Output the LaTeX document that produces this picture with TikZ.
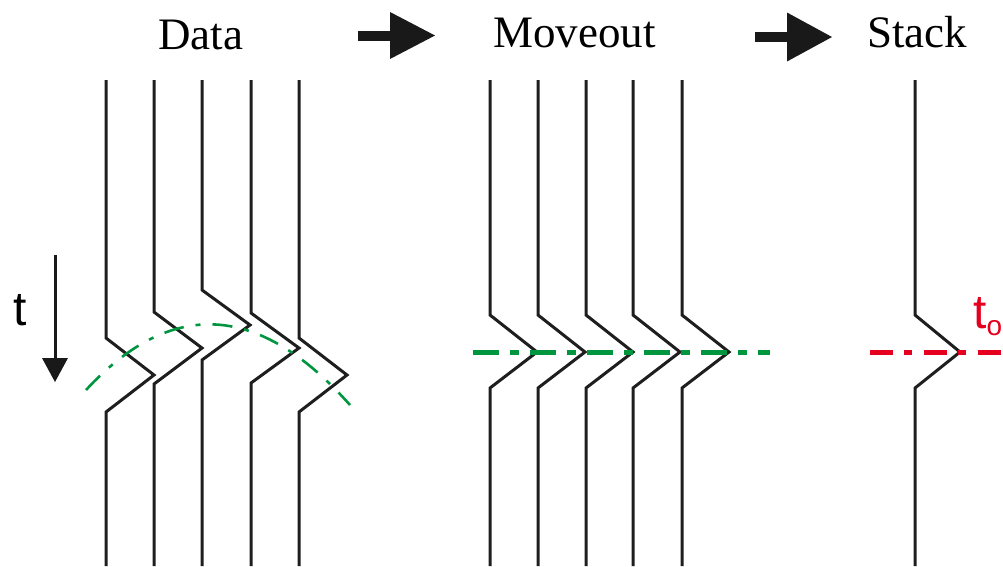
\documentclass[tikz,border=0pt]{standalone}
\usepackage{fontspec}
\setmainfont{Liberation Serif}
\newfontfamily\sansf{Liberation Sans}
\definecolor{trc}{RGB}{30,30,30}
\definecolor{grn}{RGB}{0,150,64}
\definecolor{rd}{RGB}{228,0,30}
\begin{document}
\begin{tikzpicture}[x=1pt,y=-1pt,
  trace/.style={draw=trc,line width=3pt,line join=miter},
  title/.style={anchor=base west,inner sep=0pt,font=\fontsize{45}{45}\selectfont},
  bigarrow/.style={fill=black!90,draw=none},
  gcurve/.style={draw=grn,line width=2.6pt,dash pattern=on 20pt off 12pt on 5pt off 12pt},
  gline/.style={draw=grn,line width=5pt,dash pattern=on 26pt off 11pt on 9pt off 11pt},
  rline/.style={draw=rd,line width=5pt,dash pattern=on 23pt off 11pt on 8pt off 12pt}]
\useasboundingbox (0,0) rectangle (1003,566);
% titles
\node[title] (data) at (158,49) {Data};
\node[title] (moveout) at (493,47) {Moveout};
\node[title] (stack) at (867,47) {Stack};
% big arrows
\coordinate (a1) at (358,35.5);
\coordinate (a2) at (755,37);
\fill[bigarrow] ([yshift=-5pt]a1) rectangle ([xshift=33pt,yshift=5pt]a1);
\fill[bigarrow] ([xshift=32pt,yshift=-23.5pt]a1) -- ([xshift=77pt]a1) -- ([xshift=32pt,yshift=23.5pt]a1) -- cycle;
\fill[bigarrow] ([yshift=-5pt]a2) rectangle ([xshift=33pt,yshift=5pt]a2);
\fill[bigarrow] ([xshift=32pt,yshift=-24.5pt]a2) -- ([xshift=77pt]a2) -- ([xshift=32pt,yshift=24.5pt]a2) -- cycle;
% time arrow
\coordinate (ts) at (55,255);
\coordinate (te) at (55,382);
\draw[draw=black!90,line width=3pt] (ts) -- ([yshift=22pt]te);
\fill[black!90] ([xshift=-13pt,yshift=24pt]te) -- (te) -- ([xshift=13pt,yshift=24pt]te) -- cycle;
\node[anchor=base west,inner sep=0pt,font=\sansf\fontsize{48}{48}\selectfont] (t) at (13,325) {t};
% data traces
\foreach \x/\b/\a in {106/338/375,154/312/348,202/290/325,251/313/348,299/338/375}{
  \draw[trace] (\x,80) -- (\x,\b) -- (\x+48,\a) -- (\x,2*\a-\b) -- (\x,566);
}
\coordinate (g0) at (86,390);
\coordinate (g1) at (350,405);
\draw[gcurve] (g0) .. controls (171.3,297.7) and (259.3,302.7) .. (g1);
% moveout traces
\foreach \x in {490,538,586,633,682}{
  \draw[trace] (\x,80) -- (\x,315) -- (\x+47,352) -- (\x,388) -- (\x,566);
}
\draw[gline] (473,352) -- (770,352);
% stack trace
\draw[trace] (915,80) -- (915,315) -- (960,352) -- (915,388) -- (915,566);
\draw[rline] (870,352) -- (1010,352);
\node[anchor=base west,inner sep=0pt,text=rd] (t0) at (973,328)
  {\sansf\fontsize{48}{48}\selectfont t\raisebox{-7pt}{\fontsize{28}{28}\selectfont o}};
\end{tikzpicture}
\end{document}
